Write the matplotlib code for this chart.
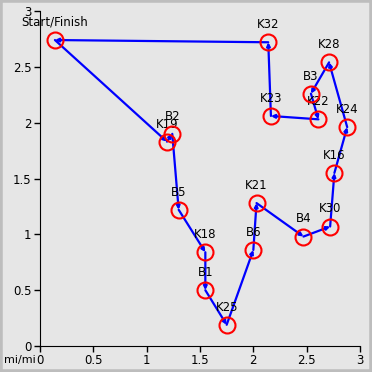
import numpy as np, matplotlib
matplotlib.use('Agg')
import matplotlib.pyplot as plt
from matplotlib.patches import Rectangle
from matplotlib.ticker import FuncFormatter

# route, in running order (ends back at start)
names = ['Start/Finish', 'K19', 'B2', 'B5', 'K18', 'B1', 'K25', 'B6', 'K21', 'B4',
         'K30', 'K16', 'K24', 'K28', 'B3', 'K22', 'K23', 'K32', 'Start/Finish']
xs = [0.14, 1.19, 1.24, 1.30, 1.55, 1.55, 1.75, 2.00, 2.03, 2.47,
      2.72, 2.76, 2.88, 2.71, 2.54, 2.61, 2.165, 2.14, 0.14]
ys = [2.74, 1.83, 1.90, 1.22, 0.84, 0.50, 0.19, 0.86, 1.28, 0.98,
      1.07, 1.55, 1.96, 2.54, 2.26, 2.03, 2.06, 2.72, 2.74]

fig = plt.figure(figsize=(3.72, 3.72), dpi=100, facecolor='#e6e6e6')
fig.patches.append(Rectangle((0, 0), 1, 1, transform=fig.transFigure, fill=False,
                             edgecolor='#bdbdbd', lw=4, zorder=10))
ax = fig.add_axes([40/372, 26/372, 320/372, 335/372])
ax.set_facecolor('#e6e6e6')

# segments with small arrowheads at the end
for i in range(len(xs) - 1):
    ax.annotate('', xy=(xs[i+1], ys[i+1]), xytext=(xs[i], ys[i]),
                arrowprops=dict(arrowstyle='-|>', color='blue', lw=1.6,
                                mutation_scale=5, shrinkA=0, shrinkB=0))

ax.plot(xs[:-1], ys[:-1], 'o', ms=11.5, mfc='none', mec='red', mew=1.5, zorder=5)
for n, x, y in zip(names[:-1], xs[:-1], ys[:-1]):
    ax.annotate(n, (x, y), xytext=(0, 8), textcoords='offset points',
                ha='center', va='bottom', fontsize=8.5)

ax.set_xlim(0, 3)
ax.set_ylim(0, 3)
ticks = np.arange(0, 3.01, 0.5)
ax.set_xticks(ticks)
ax.set_yticks(ticks)
fmt = FuncFormatter(lambda v, p: f'{v:g}')
ax.xaxis.set_major_formatter(fmt)
ax.yaxis.set_major_formatter(fmt)
ax.tick_params(labelsize=8.5, length=4, width=1, direction='out', pad=2)
for s in ['top', 'right']:
    ax.spines[s].set_visible(False)
for s in ['left', 'bottom']:
    ax.spines[s].set_color('black')

fig.text(4/372, 1 - 360/372, 'mi/mi', fontsize=8, ha='left', va='center')

fig.savefig('out.png', dpi=100, facecolor=fig.get_facecolor())
